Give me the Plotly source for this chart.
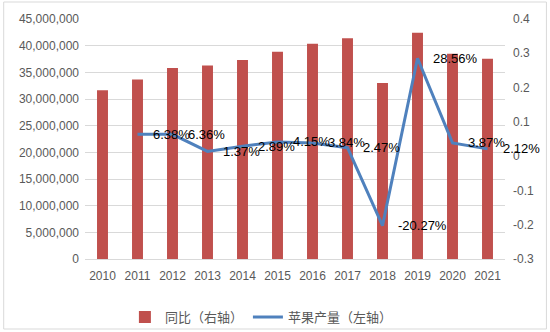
import plotly.graph_objects as go

# Years on the category axis
years = ["2010", "2011", "2012", "2013", "2014", "2015",
         "2016", "2017", "2018", "2019", "2020", "2021"]

# Apple output (tonnes), plotted as bars on the left axis
output = [31630000, 33650000, 35790000, 36280000, 37330000, 38880000,
          40370000, 41370000, 32980000, 42400000, 38500000, 37570000]

# Year-on-year change, plotted as a line on the right axis
growth_years = ["2011", "2012", "2013", "2014", "2015", "2016",
                "2017", "2018", "2019", "2020", "2021"]
growth = [0.0638, 0.0636, 0.0137, 0.0289, 0.0415, 0.0384,
          0.0247, -0.2027, 0.2856, 0.0387, 0.0212]

# Right-axis tick labels
right_ticks = [-0.3, -0.2, -0.1, 0, 0.1, 0.2, 0.3, 0.4]
right_tick_text = ["-0.3", "-0.2", "-0.1", "0", "0.1", "0.2", "0.3", "0.4"]

bar_color = "#C0504D"
line_color = "#4F81BD"
grid_color = "#D9D9D9"
tick_color = "#595959"

fig = go.Figure()

fig.add_trace(go.Bar(
    x=years, y=output, name="同比（右轴）",
    marker=dict(color=bar_color, line=dict(width=0)),
    yaxis="y",
))

fig.add_trace(go.Scatter(
    x=growth_years, y=growth, name="苹果产量（左轴）",
    mode="lines", line=dict(color=line_color, width=3),
    yaxis="y2",
))

# Percentage labels to the right of each line point
# (positioned by category index on the category axis)
annotations = []
for yr, g in zip(growth_years, growth):
    annotations.append(dict(
        x=years.index(yr), y=g, xref="x", yref="y2",
        text=f"{g * 100:.2f}%", showarrow=False,
        xanchor="left", yanchor="middle", xshift=13,
        font=dict(family="Liberation Sans, Arial", size=13, color="#000000"),
    ))

fig.update_layout(
    width=550, height=332,
    margin=dict(l=84.5, r=44.5, t=19, b=73, autoexpand=False),
    paper_bgcolor="#FFFFFF", plot_bgcolor="#FFFFFF",
    bargap=0.687,
    font=dict(family="Liberation Sans, Arial", size=12, color=tick_color),
    xaxis=dict(
        type="category", range=[-0.5, len(years) - 0.5],
        showgrid=False, showline=True,
        linecolor=grid_color, linewidth=1, ticks="",
        ticklabelstandoff=6,
        tickfont=dict(size=12, color=tick_color),
    ),
    yaxis=dict(
        range=[0, 45000000], dtick=5000000, tickformat=",",
        showgrid=True, gridcolor=grid_color, gridwidth=1,
        zeroline=False, showline=False, ticks="",
        ticklabelstandoff=5,
        tickfont=dict(size=12, color=tick_color),
    ),
    yaxis2=dict(
        overlaying="y", side="right",
        range=[-0.3, 0.4], tickvals=right_ticks, ticktext=right_tick_text,
        showgrid=False, zeroline=False, showline=False, ticks="",
        ticklabelstandoff=7,
        tickfont=dict(size=12, color=tick_color),
    ),
    legend=dict(
        orientation="h", x=0.42, xanchor="center",
        yref="container", y=0.045, yanchor="middle",
        font=dict(family="Noto Sans CJK SC", size=13, color=tick_color),
        bgcolor="rgba(0,0,0,0)",
    ),
    annotations=annotations,
    shapes=[dict(
        type="rect", xref="paper", yref="paper",
        x0=-0.1936, x1=1.0986, y0=-0.2917, y1=1.0708,
        line=dict(color=grid_color, width=1), fillcolor="rgba(0,0,0,0)",
        layer="below",
    )],
)

fig.write_html("out.html")
